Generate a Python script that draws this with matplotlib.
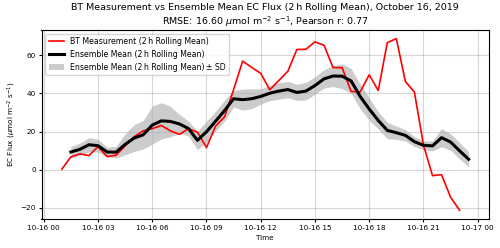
import numpy as np
import pandas as pd
import matplotlib
matplotlib.use('Agg')
import matplotlib.pyplot as plt

# BT measurement, 2 h rolling mean, every 30 min from 01:00
bt_start = '2019-10-16 01:00'
bt_flux = [0.3, 6.7, 8.3, 7.4, 12.1, 6.9, 7.6, 12.5, 17.3, 20.4, 21.5, 23.2,
           20.4, 18.5, 21.5, 19.7, 11.6, 22.8, 27.7, 42.0, 56.9, 53.6, 50.5,
           41.9, 46.7, 51.6, 63.0, 63.1, 67.0, 65.2, 53.5, 53.5, 41.0, 40.8,
           49.7, 41.5, 66.6, 68.7, 46.2, 40.7, 13.0, -3.1, -2.6, -14.4, -21.3]

# ensemble mean and SD, every 30 min from 01:30
ens_start = '2019-10-16 01:30'
ens_mean = [9.3, 10.7, 13.1, 12.6, 9.3, 9.2, 13.3, 16.6, 18.3, 23.4, 25.6,
            25.3, 24.0, 21.6, 15.4, 19.9, 25.4, 31.0, 37.2, 36.7, 37.2, 38.4,
            40.1, 41.2, 42.0, 40.5, 41.2, 44.1, 47.6, 49.1, 49.0, 46.5, 38.4,
            31.8, 25.8, 20.6, 19.4, 18.0, 14.7, 12.8, 12.5, 16.8, 14.5, 9.9, 5.5]
ens_sd = [3.0, 3.2, 3.7, 3.3, 2.5, 3.0, 5.5, 7.0, 7.5, 10.0, 9.5, 8.0, 5.0,
          3.9, 4.8, 5.5, 5.2, 5.5, 4.3, 5.5, 5.2, 4.0, 3.9, 4.3, 4.3, 4.2,
          4.6, 4.6, 4.8, 5.5, 6.5, 6.5, 6.5, 5.8, 4.5, 4.3, 3.5, 3.0, 2.6,
          2.4, 2.6, 4.8, 4.3, 4.3, 4.0]

rmse = 16.60
pearson_r = 0.77

t_bt = pd.date_range(bt_start, periods=len(bt_flux), freq='30min')
t_ens = pd.date_range(ens_start, periods=len(ens_mean), freq='30min')
mean = np.array(ens_mean)
sd = np.array(ens_sd)

fig = plt.figure(figsize=(5, 2.48), dpi=100)
ax = fig.add_axes([0.083, 0.117, 0.895, 0.762])

ax.plot(t_bt, bt_flux, color='red', lw=1.2, label='BT Measurement (2\u2009h Rolling Mean)')
ax.plot(t_ens, mean, color='black', lw=2.2, label='Ensemble Mean (2\u2009h Rolling Mean)')
ax.fill_between(t_ens, mean - sd, mean + sd, color='gray', alpha=0.4, lw=0,
                label='Ensemble Mean (2\u2009h Rolling Mean)\u2009± SD')

ax.set_title('BT Measurement vs Ensemble Mean EC Flux (2\u2009h Rolling Mean), October 16, 2019\n'
             f'RMSE: {rmse:.2f} $\\mu$mol m$^{{-2}}$ s$^{{-1}}$, Pearson r: {pearson_r:.2f}',
             fontsize=6.8, pad=4)
ax.set_xlabel('Time', fontsize=5.2, labelpad=3)
ax.set_ylabel('EC Flux ($\\mu$mol m$^{-2}$ s$^{-1}$)', fontsize=5.2, labelpad=2)
ax.tick_params(labelsize=5.2, length=2, pad=2)
ax.grid(True, color='#b0b0b0', alpha=0.5, lw=0.8)
ax.legend(loc='upper left', fontsize=5.6)

fig.savefig('out.png', dpi=100)
